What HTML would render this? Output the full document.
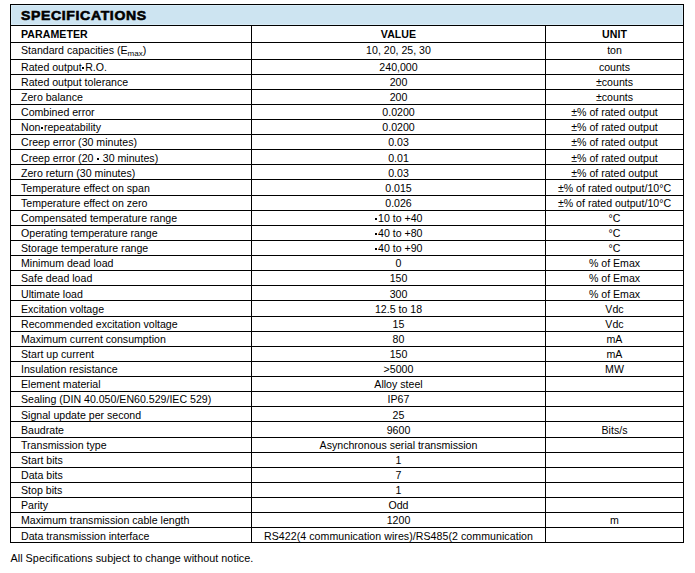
<!DOCTYPE html>
<html><head><meta charset="utf-8"><title>Specifications</title>
<style>
html,body{margin:0;padding:0;background:#fff;}
body{width:695px;height:573px;position:relative;overflow:hidden;font-family:"Liberation Sans",sans-serif;color:#000;}
.h{position:absolute;left:10px;width:674px;height:1px;background:#000;}
.v{position:absolute;width:1px;background:#000;}
.t{position:absolute;white-space:nowrap;font-size:10.6px;line-height:12px;height:12px;}
.c{text-align:center;}
.b{font-weight:bold;letter-spacing:0.05px;}
sub{font-size:8px;vertical-align:baseline;position:relative;top:2px;line-height:0;}
.d{display:inline-block;width:2px;height:2px;background:#000;vertical-align:middle;margin:0 0.75px;position:relative;top:-0.5px;}
#hdr{position:absolute;left:11px;top:5px;width:672px;height:20px;background:#cde4f1;box-shadow:inset 0 0 0 1px #d8ecf7;}
#ttl{position:absolute;left:21.1px;top:7.7px;font-size:13.5px;font-weight:bold;line-height:16px;white-space:nowrap;transform-origin:0 50%;transform:translateY(-0.5px) scaleX(1.04);-webkit-text-stroke:0.6px #000;letter-spacing:0.62px;}
</style></head><body>

<div id="hdr"></div>
<div id="ttl">SPECIFICATIONS</div>
<div class="h" style="top:4px"></div>
<div class="h" style="top:25px"></div>
<div class="h" style="top:42px"></div>
<div class="h" style="top:59px"></div>
<div class="h" style="top:74px"></div>
<div class="h" style="top:89px"></div>
<div class="h" style="top:104px"></div>
<div class="h" style="top:119px"></div>
<div class="h" style="top:134px"></div>
<div class="h" style="top:149px"></div>
<div class="h" style="top:164px"></div>
<div class="h" style="top:179px"></div>
<div class="h" style="top:195px"></div>
<div class="h" style="top:210px"></div>
<div class="h" style="top:225px"></div>
<div class="h" style="top:240px"></div>
<div class="h" style="top:255px"></div>
<div class="h" style="top:270px"></div>
<div class="h" style="top:285px"></div>
<div class="h" style="top:300px"></div>
<div class="h" style="top:316px"></div>
<div class="h" style="top:331px"></div>
<div class="h" style="top:346px"></div>
<div class="h" style="top:361px"></div>
<div class="h" style="top:376px"></div>
<div class="h" style="top:391px"></div>
<div class="h" style="top:406px"></div>
<div class="h" style="top:421px"></div>
<div class="h" style="top:437px"></div>
<div class="h" style="top:452px"></div>
<div class="h" style="top:467px"></div>
<div class="h" style="top:482px"></div>
<div class="h" style="top:497px"></div>
<div class="h" style="top:512px"></div>
<div class="h" style="top:527px"></div>
<div class="h" style="top:542px"></div>
<div class="v" style="left:10px;top:4px;height:539px"></div>
<div class="v" style="left:683px;top:4px;height:539px"></div>
<div class="v" style="left:251px;top:25px;height:518px"></div>
<div class="v" style="left:545px;top:25px;height:518px"></div>
<div class="t b" style="left:21px;top:28.30px">PARAMETER</div>
<div class="t c b" style="left:252px;width:293px;top:28.30px">VALUE</div>
<div class="t c b" style="left:546px;width:137px;top:28.30px">UNIT</div>
<div class="t" style="left:21px;top:44.30px">Standard capacities (E<sub>max</sub>)</div>
<div class="t c" style="left:252px;width:293px;top:44.30px">10, 20, 25, 30</div>
<div class="t c" style="left:546px;width:137px;top:44.30px">ton</div>
<div class="t" style="left:21px;top:61.30px">Rated output<span class="d"></span>R.O.</div>
<div class="t c" style="left:252px;width:293px;top:61.30px">240,000</div>
<div class="t c" style="left:546px;width:137px;top:61.30px">counts</div>
<div class="t" style="left:21px;top:76.30px">Rated output tolerance</div>
<div class="t c" style="left:252px;width:293px;top:76.30px">200</div>
<div class="t c" style="left:546px;width:137px;top:76.30px">±counts</div>
<div class="t" style="left:21px;top:91.30px">Zero balance</div>
<div class="t c" style="left:252px;width:293px;top:91.30px">200</div>
<div class="t c" style="left:546px;width:137px;top:91.30px">±counts</div>
<div class="t" style="left:21px;top:106.30px">Combined error</div>
<div class="t c" style="left:252px;width:293px;top:106.30px">0.0200</div>
<div class="t c" style="left:546px;width:137px;top:106.30px">±% of rated output</div>
<div class="t" style="left:21px;top:121.30px">Non<span class="d"></span>repeatability</div>
<div class="t c" style="left:252px;width:293px;top:121.30px">0.0200</div>
<div class="t c" style="left:546px;width:137px;top:121.30px">±% of rated output</div>
<div class="t" style="left:21px;top:136.30px">Creep error (30 minutes)</div>
<div class="t c" style="left:252px;width:293px;top:136.30px">0.03</div>
<div class="t c" style="left:546px;width:137px;top:136.30px">±% of rated output</div>
<div class="t" style="left:21px;top:152.30px">Creep error (20 <span class="d"></span> 30 minutes)</div>
<div class="t c" style="left:252px;width:293px;top:152.30px">0.01</div>
<div class="t c" style="left:546px;width:137px;top:152.30px">±% of rated output</div>
<div class="t" style="left:21px;top:167.30px">Zero return (30 minutes)</div>
<div class="t c" style="left:252px;width:293px;top:167.30px">0.03</div>
<div class="t c" style="left:546px;width:137px;top:167.30px">±% of rated output</div>
<div class="t" style="left:21px;top:182.30px">Temperature effect on span</div>
<div class="t c" style="left:252px;width:293px;top:182.30px">0.015</div>
<div class="t c" style="left:546px;width:137px;top:182.30px">±% of rated output/10°C</div>
<div class="t" style="left:21px;top:197.30px">Temperature effect on zero</div>
<div class="t c" style="left:252px;width:293px;top:197.30px">0.026</div>
<div class="t c" style="left:546px;width:137px;top:197.30px">±% of rated output/10°C</div>
<div class="t" style="left:21px;top:212.30px">Compensated temperature range</div>
<div class="t c" style="left:252px;width:293px;top:212.30px"><span class="d"></span>10 to +40</div>
<div class="t c" style="left:546px;width:137px;top:212.30px">°C</div>
<div class="t" style="left:21px;top:227.30px">Operating temperature range</div>
<div class="t c" style="left:252px;width:293px;top:227.30px"><span class="d"></span>40 to +80</div>
<div class="t c" style="left:546px;width:137px;top:227.30px">°C</div>
<div class="t" style="left:21px;top:242.30px">Storage temperature range</div>
<div class="t c" style="left:252px;width:293px;top:242.30px"><span class="d"></span>40 to +90</div>
<div class="t c" style="left:546px;width:137px;top:242.30px">°C</div>
<div class="t" style="left:21px;top:257.30px">Minimum dead load</div>
<div class="t c" style="left:252px;width:293px;top:257.30px">0</div>
<div class="t c" style="left:546px;width:137px;top:257.30px">% of Emax</div>
<div class="t" style="left:21px;top:272.30px">Safe dead load</div>
<div class="t c" style="left:252px;width:293px;top:272.30px">150</div>
<div class="t c" style="left:546px;width:137px;top:272.30px">% of Emax</div>
<div class="t" style="left:21px;top:288.30px">Ultimate load</div>
<div class="t c" style="left:252px;width:293px;top:288.30px">300</div>
<div class="t c" style="left:546px;width:137px;top:288.30px">% of Emax</div>
<div class="t" style="left:21px;top:303.30px">Excitation voltage</div>
<div class="t c" style="left:252px;width:293px;top:303.30px">12.5 to 18</div>
<div class="t c" style="left:546px;width:137px;top:303.30px">Vdc</div>
<div class="t" style="left:21px;top:318.30px">Recommended excitation voltage</div>
<div class="t c" style="left:252px;width:293px;top:318.30px">15</div>
<div class="t c" style="left:546px;width:137px;top:318.30px">Vdc</div>
<div class="t" style="left:21px;top:333.30px">Maximum current consumption</div>
<div class="t c" style="left:252px;width:293px;top:333.30px">80</div>
<div class="t c" style="left:546px;width:137px;top:333.30px">mA</div>
<div class="t" style="left:21px;top:348.30px">Start up current</div>
<div class="t c" style="left:252px;width:293px;top:348.30px">150</div>
<div class="t c" style="left:546px;width:137px;top:348.30px">mA</div>
<div class="t" style="left:21px;top:363.30px">Insulation resistance</div>
<div class="t c" style="left:252px;width:293px;top:363.30px">>5000</div>
<div class="t c" style="left:546px;width:137px;top:363.30px">MW</div>
<div class="t" style="left:21px;top:378.30px">Element material</div>
<div class="t c" style="left:252px;width:293px;top:378.30px">Alloy steel</div>
<div class="t" style="left:21px;top:393.30px">Sealing (DIN 40.050/EN60.529/IEC 529)</div>
<div class="t c" style="left:252px;width:293px;top:393.30px">IP67</div>
<div class="t" style="left:21px;top:409.30px">Signal update per second</div>
<div class="t c" style="left:252px;width:293px;top:409.30px">25</div>
<div class="t" style="left:21px;top:424.30px">Baudrate</div>
<div class="t c" style="left:252px;width:293px;top:424.30px">9600</div>
<div class="t c" style="left:546px;width:137px;top:424.30px">Bits/s</div>
<div class="t" style="left:21px;top:439.30px">Transmission type</div>
<div class="t c" style="left:252px;width:293px;top:439.30px">Asynchronous serial transmission</div>
<div class="t" style="left:21px;top:454.30px">Start bits</div>
<div class="t c" style="left:252px;width:293px;top:454.30px">1</div>
<div class="t" style="left:21px;top:469.30px">Data bits</div>
<div class="t c" style="left:252px;width:293px;top:469.30px">7</div>
<div class="t" style="left:21px;top:484.30px">Stop bits</div>
<div class="t c" style="left:252px;width:293px;top:484.30px">1</div>
<div class="t" style="left:21px;top:499.30px">Parity</div>
<div class="t c" style="left:252px;width:293px;top:499.30px">Odd</div>
<div class="t" style="left:21px;top:514.30px">Maximum transmission cable length</div>
<div class="t c" style="left:252px;width:293px;top:514.30px">1200</div>
<div class="t c" style="left:546px;width:137px;top:514.30px">m</div>
<div class="t" style="left:21px;top:530.30px">Data transmission interface</div>
<div class="t c" style="left:252px;width:293px;top:530.30px;letter-spacing:0.055px">RS422(4 communication wires)/RS485(2 communication</div>
<div class="t" style="left:10.5px;top:552.30px;font-size:10.8px;letter-spacing:0.03px">All Specifications subject to change without notice.</div>
</body></html>
